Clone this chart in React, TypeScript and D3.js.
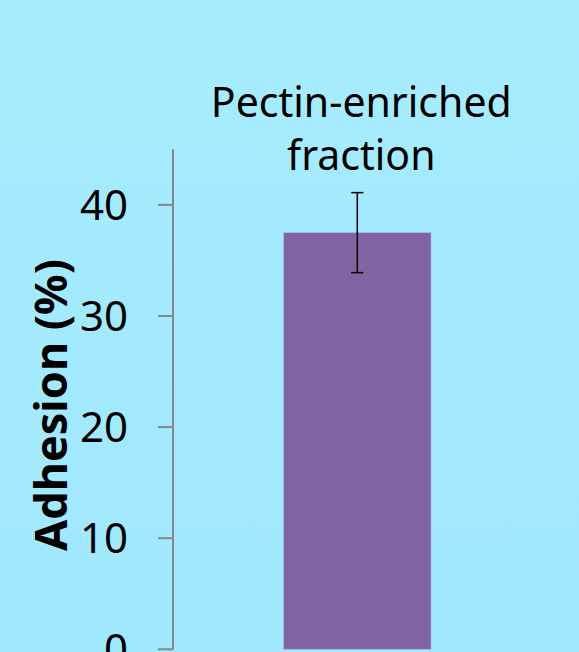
import React from "react";
import * as d3 from "d3";

const categories: string[] = ["Pectin-enriched fraction"];
const titleLines: string[] = ["Pectin-enriched", "fraction"];
const values: number[] = [37.5];
const errors: number[] = [3.6];
const yTicks: number[] = [0, 10, 20, 30, 40];
const yLabel = "Adhesion (%)";

const W = 579;
const H = 652;

export default function App() {
  const x = d3
    .scaleBand<string>()
    .domain(categories)
    .range([173, 541.6])
    .paddingInner(0.6)
    .paddingOuter(0.3);
  const y = d3.scaleLinear().domain([0, 45]).range([649.3, 149.3]);
  const font = "'Noto Sans', sans-serif";
  const axisX = 173;
  return (
    <div style={{ position: "fixed", left: 0, top: 0, width: W, height: H, overflow: "hidden" }}>
      <svg width={W} height={H + 60} style={{ display: "block" }}>
        <defs>
          <linearGradient id="bg" x1="0" y1="0" x2="0" y2="1">
            <stop offset="0" stopColor="#a7ecff" />
            <stop offset="1" stopColor="#a0e8fd" />
          </linearGradient>
        </defs>
        <rect x={0} y={0} width={W} height={H + 60} fill="url(#bg)" />
        {/* y axis */}
        <line x1={axisX} x2={axisX} y1={y(45)} y2={y(0)} stroke="#878787" strokeWidth={2} />
        {yTicks.map((t) => (
          <g key={t}>
            <line x1={158} x2={axisX} y1={y(t)} y2={y(t)} stroke="#878787" strokeWidth={2} />
            <text
              x={128}
              y={y(t) + 15}
              textAnchor="end"
              fontFamily={font}
              fontSize={42}
              fill="#000"
            >
              {t}
            </text>
          </g>
        ))}
        <text
          transform={`translate(67,${405}) rotate(-90)`}
          textAnchor="middle"
          fontFamily={font}
          fontWeight="bold"
          fontSize={45}
          fill="#000"
        >
          {yLabel}
        </text>
        {/* bars */}
        {categories.map((c, i) => {
          const bx = x(c)!;
          const bw = x.bandwidth();
          const cx = bx + bw / 2;
          return (
            <g key={c}>
              <rect
                x={bx}
                y={y(values[i])}
                width={bw}
                height={y(0) - y(values[i])}
                fill="#8064a2"
                stroke="#a9b4e0"
                strokeOpacity={0.6}
                strokeWidth={1}
              />
              <line x1={cx} x2={cx} y1={y(values[i] + errors[i])} y2={y(values[i] - errors[i])} stroke="#000" strokeWidth={1.5} />
              <line x1={cx - 6} x2={cx + 6} y1={y(values[i] + errors[i])} y2={y(values[i] + errors[i])} stroke="#000" strokeWidth={1.5} />
              <line x1={cx - 6} x2={cx + 6} y1={y(values[i] - errors[i])} y2={y(values[i] - errors[i])} stroke="#000" strokeWidth={1.5} />
              {titleLines.map((line, j) => (
                <text
                  key={j}
                  x={cx + 4}
                  y={117 + j * 53}
                  textAnchor="middle"
                  fontFamily={font}
                  fontSize={41}
                  fill="#000"
                >
                  {line}
                </text>
              ))}
            </g>
          );
        })}
      </svg>
    </div>
  );
}
